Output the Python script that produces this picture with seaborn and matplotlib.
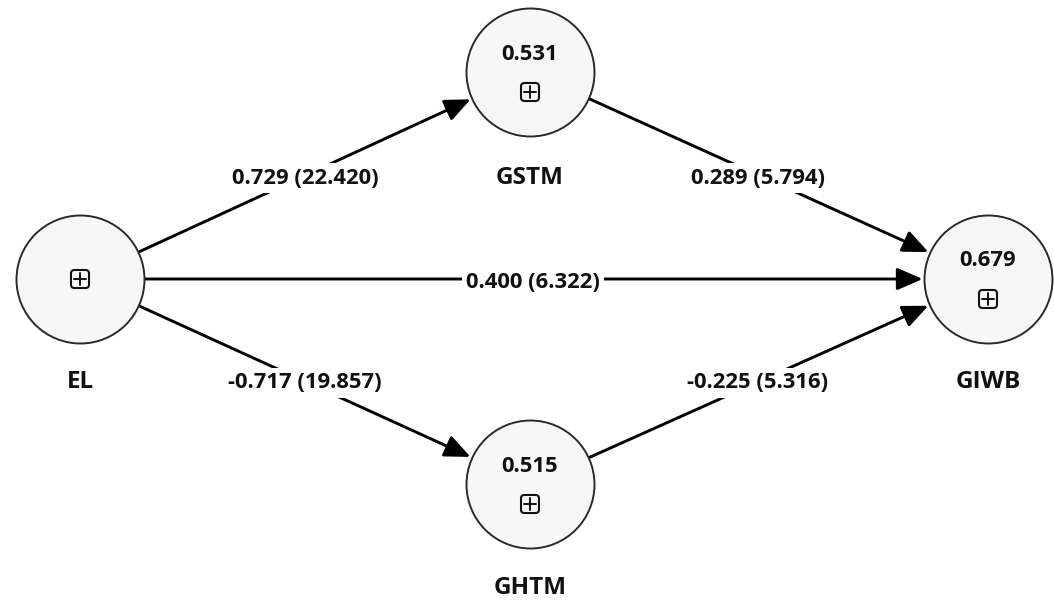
import matplotlib
matplotlib.use("Agg")
import matplotlib.pyplot as plt
import seaborn as sns
import pandas as pd
from matplotlib.patches import FancyBboxPatch

# ---- data ----
node_names = ["EL", "GSTM", "GHTM", "GIWB"]
node_r2 = [None, 0.531, 0.515, 0.679]
path_from = ["EL", "EL", "EL", "GSTM", "GHTM"]
path_to = ["GSTM", "GIWB", "GHTM", "GIWB", "GIWB"]
path_coef = [0.729, 0.400, -0.717, 0.289, -0.225]
path_t = [22.420, 6.322, 19.857, 5.794, 5.316]

# ---- layout (pixel coordinates) ----
layout = {"EL": (80, 279), "GSTM": (530, 72), "GHTM": (530, 484), "GIWB": (988, 279)}
label_pos = {"EL": (80, 382), "GSTM": (530, 178), "GHTM": (530, 588), "GIWB": (988, 382)}
edge_label_pos = [(305, 178), (533, 282), (305, 383), (758, 178), (758, 383)]
R = 64

sns.set_theme(style="white")
plt.rcParams['font.family'] = ['Open Sans', 'DejaVu Sans']

fig = plt.figure(figsize=(10.54, 6.0), dpi=100)
ax = fig.add_axes([0, 0, 1, 1])

nodes = pd.DataFrame({"name": node_names,
                      "x": [layout[n][0] for n in node_names],
                      "y": [layout[n][1] for n in node_names]})
diam_pt = 2 * R * 72 / 100
sns.scatterplot(data=nodes, x="x", y="y", s=diam_pt ** 2, color="#f7f7f7",
                edgecolor="#2a2a2a", linewidth=1.4, ax=ax, zorder=3, legend=False)
ax.set_xlim(0, 1054)
ax.set_ylim(600, 0)
ax.axis("off")

shrink = R * 72 / 100 + 1
for f, t, c, tv, lp in zip(path_from, path_to, path_coef, path_t, edge_label_pos):
    ax.annotate("", xy=layout[t], xytext=layout[f],
                arrowprops=dict(arrowstyle="-|>,head_length=0.78,head_width=0.34",
                                mutation_scale=20, color="black", lw=2.1,
                                shrinkA=shrink, shrinkB=shrink),
                zorder=2)
    ax.text(lp[0], lp[1], f"{c:.3f} ({tv:.3f})", ha="center", va="center",
            fontsize=15.8, fontweight="bold", color="#111111", zorder=4,
            bbox=dict(boxstyle="square,pad=0.2", fc="white", ec="none"))

for name, r2 in zip(node_names, node_r2):
    cx, cy = layout[name]
    if r2 is None:
        by = cy
    else:
        ax.text(cx, cy - 18, f"{r2:.3f}", ha="center", va="center", fontsize=15.8,
                fontweight="bold", color="#111111", zorder=5)
        by = cy + 20
    s = 18
    ax.add_patch(FancyBboxPatch((cx - s / 2 + 3, by - s / 2 + 3), s - 6, s - 6,
                                boxstyle="round,pad=3,rounding_size=3.5",
                                fc="none", ec="#111111", lw=1.5, zorder=5))
    ax.plot([cx - 6, cx + 6], [by, by], color="#111111", lw=1.4, zorder=5)
    ax.plot([cx, cx], [by - 6, by + 6], color="#111111", lw=1.4, zorder=5)
    lx, ly = label_pos[name]
    ax.text(lx, ly, name, ha="center", va="center", fontsize=17.5,
            fontweight="bold", color="#111111", zorder=5)

fig.savefig("out.png", dpi=100, facecolor="white")
